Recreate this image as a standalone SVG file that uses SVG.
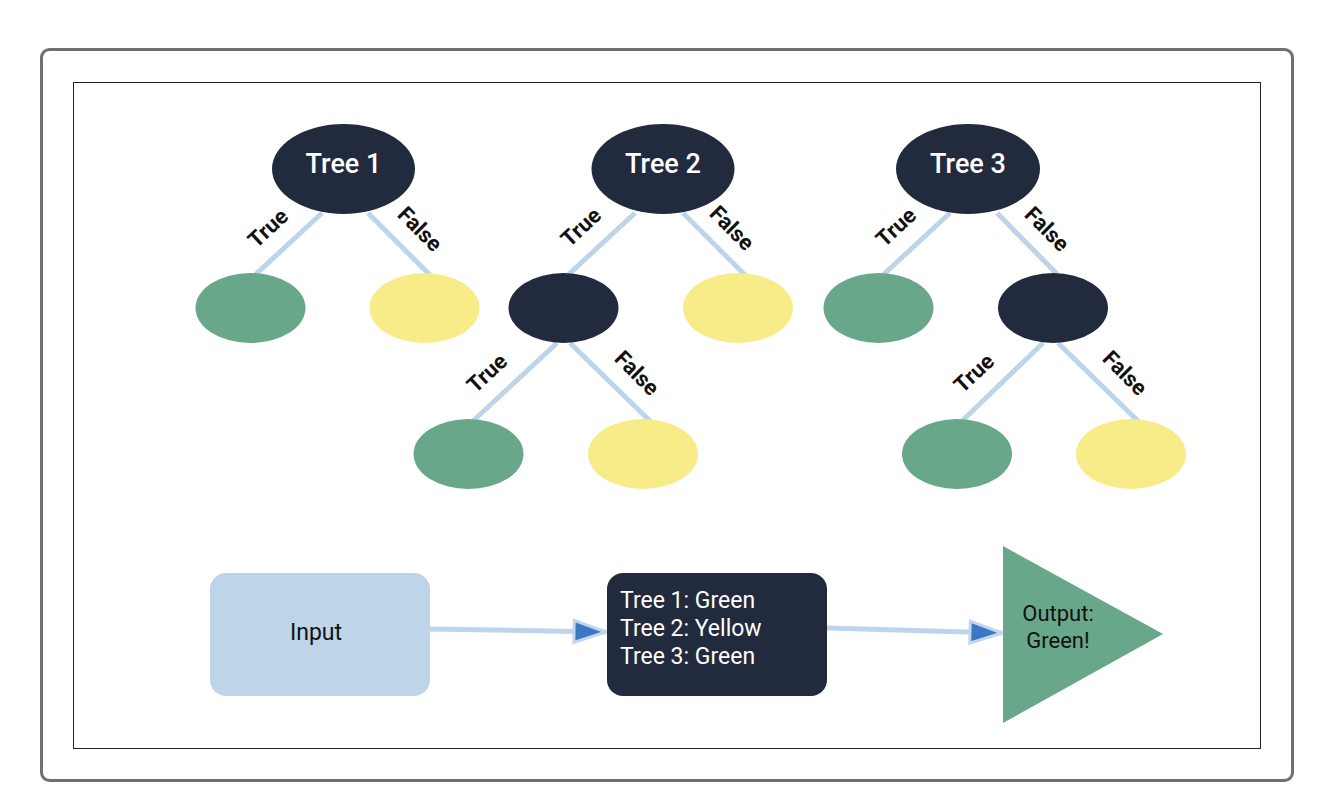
<svg xmlns="http://www.w3.org/2000/svg" width="1328" height="810" viewBox="0 0 1328 810">
  <style>
    .dark { fill: #222a3d; }
    .green { fill: #69a78a; }
    .yellow { fill: #f7ec88; }
    .edge { stroke: #bed4ea; stroke-width: 5; fill: none; }
    .flow { stroke: #bed4ea; stroke-width: 5; fill: none; }
    .elabel { font-family: Roboto, "Liberation Sans", sans-serif; font-weight: 700; font-size: 22px; fill: #111; text-anchor: middle; dominant-baseline: central; }
    .title { font-family: Roboto, "Liberation Sans", sans-serif; font-weight: 500; font-size: 27px; fill: #ffffff; text-anchor: middle; }
    .btext { font-family: Roboto, "Liberation Sans", sans-serif; font-size: 22px; fill: #111; text-anchor: middle; }
    .wtext { font-family: Roboto, "Liberation Sans", sans-serif; font-size: 23px; fill: #ffffff; }
  </style>
  <defs>
    <marker id="arrow" markerUnits="userSpaceOnUse" markerWidth="42" markerHeight="32" viewBox="-4 -4 42 32" refX="32" refY="11" orient="auto">
      <path d="M0,0 L32,11 L0,22 z" fill="#3a78c3" stroke="#c2d6ee" stroke-width="3" stroke-linejoin="miter"/>
    </marker>
  </defs>

  <rect x="0" y="0" width="1328" height="810" fill="#ffffff"/>
  <rect id="frame" x="41.5" y="49.5" width="1251" height="731" rx="8" ry="8" fill="#ffffff" stroke="#707070" stroke-width="3"/>
  <rect id="canvas" x="73.5" y="82.5" width="1187" height="666" fill="#ffffff" stroke="#222222" stroke-width="1"/>

  <g id="connectors">
    <!-- Tree 1 -->
    <line class="edge" x1="322" y1="213" x2="255" y2="275"/>
    <line class="edge" x1="368" y1="213" x2="430" y2="275"/>
    <!-- Tree 2 -->
    <line class="edge" x1="635" y1="213" x2="568" y2="275"/>
    <line class="edge" x1="683" y1="213" x2="745" y2="275"/>
    <line class="edge" x1="557" y1="343" x2="473" y2="421"/>
    <line class="edge" x1="570" y1="343" x2="650" y2="421"/>
    <!-- Tree 3 -->
    <line class="edge" x1="950" y1="213" x2="883" y2="275"/>
    <line class="edge" x1="997" y1="213" x2="1058" y2="275"/>
    <line class="edge" x1="1043" y1="343" x2="962" y2="421"/>
    <line class="edge" x1="1058" y1="343" x2="1138" y2="421"/>

    <text class="elabel" transform="translate(268,228) rotate(-43)">True</text>
    <text class="elabel" transform="translate(420,229) rotate(45)">False</text>
    <text class="elabel" transform="translate(581,227) rotate(-43)">True</text>
    <text class="elabel" transform="translate(732,228) rotate(45)">False</text>
    <text class="elabel" transform="translate(487,373) rotate(-43)">True</text>
    <text class="elabel" transform="translate(637,373) rotate(45)">False</text>
    <text class="elabel" transform="translate(896,227) rotate(-43)">True</text>
    <text class="elabel" transform="translate(1047,229) rotate(45)">False</text>
    <text class="elabel" transform="translate(974,373) rotate(-43)">True</text>
    <text class="elabel" transform="translate(1125,373) rotate(45)">False</text>

    <line class="flow" x1="430" y1="629" x2="606" y2="632" marker-end="url(#arrow)"/>
    <line class="flow" x1="827" y1="628" x2="1002" y2="633" marker-end="url(#arrow)"/>
  </g>

  <g id="tree1">
    <ellipse class="dark" cx="343.5" cy="169" rx="71.5" ry="45"/>
    <text class="title" x="343.5" y="173">Tree 1</text>
  </g>
  <g id="tree1-true"><ellipse class="green" cx="250.5" cy="308" rx="55" ry="35"/></g>
  <g id="tree1-false"><ellipse class="yellow" cx="424.5" cy="308" rx="55" ry="35"/></g>

  <g id="tree2">
    <ellipse class="dark" cx="663" cy="169" rx="71.5" ry="45"/>
    <text class="title" x="663" y="173">Tree 2</text>
  </g>
  <g id="tree2-mid"><ellipse class="dark" cx="563.5" cy="308" rx="55" ry="35"/></g>
  <g id="tree2-false"><ellipse class="yellow" cx="738" cy="308" rx="55" ry="35"/></g>
  <g id="tree2-mid-true"><ellipse class="green" cx="468.5" cy="454" rx="55" ry="35"/></g>
  <g id="tree2-mid-false"><ellipse class="yellow" cx="643" cy="454" rx="55" ry="35"/></g>

  <g id="tree3">
    <ellipse class="dark" cx="968" cy="169" rx="72" ry="45"/>
    <text class="title" x="968" y="173">Tree 3</text>
  </g>
  <g id="tree3-true"><ellipse class="green" cx="878.5" cy="308" rx="55" ry="35"/></g>
  <g id="tree3-mid"><ellipse class="dark" cx="1053" cy="308" rx="55" ry="35"/></g>
  <g id="tree3-mid-true"><ellipse class="green" cx="957" cy="454" rx="55" ry="35"/></g>
  <g id="tree3-mid-false"><ellipse class="yellow" cx="1131" cy="454" rx="55" ry="35"/></g>

  <g id="input">
    <rect x="210" y="573" width="220" height="123" rx="16" ry="16" fill="#bdd4e9"/>
    <text class="btext" x="316" y="640" style="font-size:23px">Input</text>
  </g>

  <g id="votes">
    <rect x="607" y="573" width="220" height="123" rx="16" ry="16" class="dark"/>
    <text class="wtext" x="620" y="608">Tree 1: Green</text>
    <text class="wtext" x="620" y="636">Tree 2: Yellow</text>
    <text class="wtext" x="620" y="664">Tree 3: Green</text>
  </g>

  <g id="output">
    <polygon points="1003,546 1163,634 1003,723" class="green"/>
    <text class="btext" x="1058" y="621">Output:</text>
    <text class="btext" x="1058" y="648">Green!</text>
  </g>
</svg>
